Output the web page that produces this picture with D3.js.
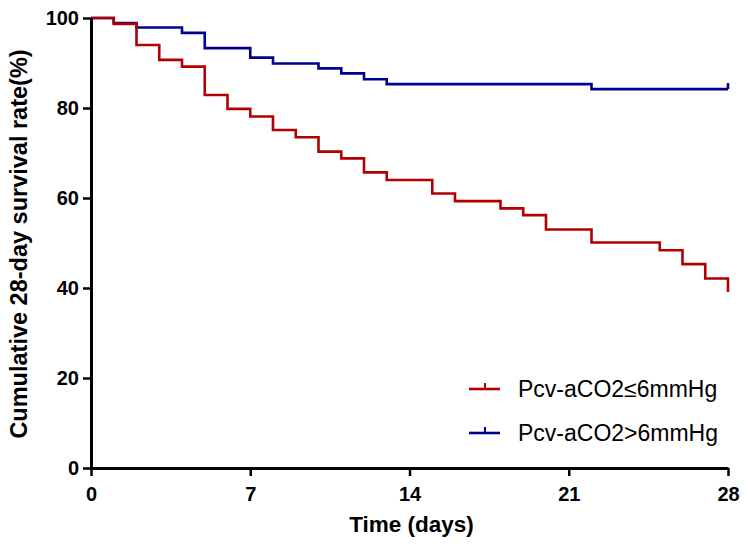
<!DOCTYPE html>
<html>
<head>
<meta charset="utf-8">
<script src="https://cdn.jsdelivr.net/npm/d3@7"></script>
<style>
  body { margin: 0; background: #fff; }
  text { font-family: "Liberation Sans", Arial, sans-serif; }
</style>
</head>
<body>
<div id="chart"></div>
<script>
// Kaplan-Meier step data
const lowDays = [0, 1, 2, 3, 4, 5, 6, 7, 8, 9, 10, 11, 12, 13, 15, 16, 18, 19, 20, 22, 25, 26, 27, 28];
const lowSurv = [100, 98.7, 94.0, 90.7, 89.2, 82.9, 79.8, 78.1, 75.1, 73.5, 70.3, 68.8, 65.7, 64.0, 61.0, 59.3, 57.7, 56.2, 53.0, 50.1, 48.4, 45.3, 42.1, 39.1];
const highDays = [0, 1, 2, 4, 5, 7, 8, 10, 11, 12, 13, 22, 28];
const highSurv = [100, 98.9, 97.9, 96.7, 93.3, 91.2, 89.9, 88.8, 87.7, 86.4, 85.3, 84.2, 84.2];
const highCensor = [28];

const xTicks = [0, 7, 14, 21, 28];
const yTicks = [0, 20, 40, 60, 80, 100];
const seriesNames = ["Pcv-aCO2≤6mmHg", "Pcv-aCO2>6mmHg"];
const seriesColors = ["#b00000", "#000090"];

const W = 748, H = 547;
const margin = { top: 18, right: 20, bottom: 79, left: 91 };
const width = W - margin.left - margin.right;
const height = H - margin.top - margin.bottom;

const svg = d3.select("#chart")
    .append("svg")
    .attr("width", W)
    .attr("height", H);

const g = svg.append("g")
    .attr("transform", `translate(${margin.left},${margin.top})`);

const x = d3.scaleLinear().domain([0, 28]).range([0, width]);
const y = d3.scaleLinear().domain([0, 100]).range([height, 0]);

const line = d3.line()
    .x(d => x(d[0]))
    .y(d => y(d[1]))
    .curve(d3.curveStepAfter);

const lowData = lowDays.map((d, i) => [d, lowSurv[i]]);
const highData = highDays.map((d, i) => [d, highSurv[i]]);

g.append("path")
    .datum(highData)
    .attr("d", line)
    .style("fill", "none")
    .style("stroke", seriesColors[1])
    .style("stroke-width", 2.6);

g.append("path")
    .datum(lowData)
    .attr("d", line)
    .style("fill", "none")
    .style("stroke", seriesColors[0])
    .style("stroke-width", 2.6);

// censor ticks on the >6 group
g.selectAll(".censor")
    .data(highCensor)
    .enter()
    .append("line")
    .attr("class", "censor")
    .attr("x1", d => x(d))
    .attr("x2", d => x(d))
    .attr("y1", y(84.2))
    .attr("y2", y(84.2) - 6)
    .style("stroke", seriesColors[1])
    .style("stroke-width", 2.6);

// Axes
const xAxis = g.append("g")
    .attr("transform", `translate(0,${height})`)
    .call(d3.axisBottom(x).tickValues(xTicks).tickSize(8).tickSizeOuter(0));

const yAxis = g.append("g")
    .call(d3.axisLeft(y).tickValues(yTicks).tickSize(8).tickSizeOuter(0));

[xAxis, yAxis].forEach(a => {
    a.select(".domain").style("stroke", "#000").style("stroke-width", 3);
    a.selectAll(".tick line").style("stroke", "#000").style("stroke-width", 2.5);
    a.selectAll(".tick text")
        .style("font-weight", "bold")
        .style("font-size", "20px")
        .style("fill", "#000");
});

xAxis.selectAll(".tick text")
    .attr("dy", "1.12em");

yAxis.selectAll(".tick text")
    .attr("x", -12);

// Axis labels
svg.append("text")
    .attr("x", margin.left + width / 2 + 2)
    .attr("y", 532)
    .style("text-anchor", "middle")
    .style("font-weight", "bold")
    .style("font-size", "22.5px")
    .text("Time (days)");

svg.append("text")
    .attr("transform", "rotate(-90)")
    .attr("x", -(margin.top + 226))
    .attr("y", 27)
    .style("text-anchor", "middle")
    .style("font-weight", "bold")
    .style("font-size", "23.5px")
    .text("Cumulative 28-day survival rate(%)");

// Legend
const legend = svg.append("g")
    .attr("transform", "translate(469, 389)");

legend.selectAll(".legend-item")
    .data(seriesNames)
    .enter()
    .append("g")
    .attr("class", "legend-item")
    .attr("transform", (d, i) => `translate(0, ${i * 44})`)
    .each(function (d, i) {
        const item = d3.select(this);
        item.append("line")
            .attr("x1", 0).attr("x2", 31)
            .attr("y1", 0).attr("y2", 0)
            .style("stroke", seriesColors[i])
            .style("stroke-width", 2.6);
        item.append("line")
            .attr("x1", 16).attr("x2", 16)
            .attr("y1", 0).attr("y2", -6)
            .style("stroke", seriesColors[i])
            .style("stroke-width", 2);
        item.append("text")
            .attr("x", 49)
            .attr("y", 0)
            .attr("dy", "0.36em")
            .style("font-size", "23px")
            .style("fill", "#000")
            .text(d);
    });
</script>
</body>
</html>
